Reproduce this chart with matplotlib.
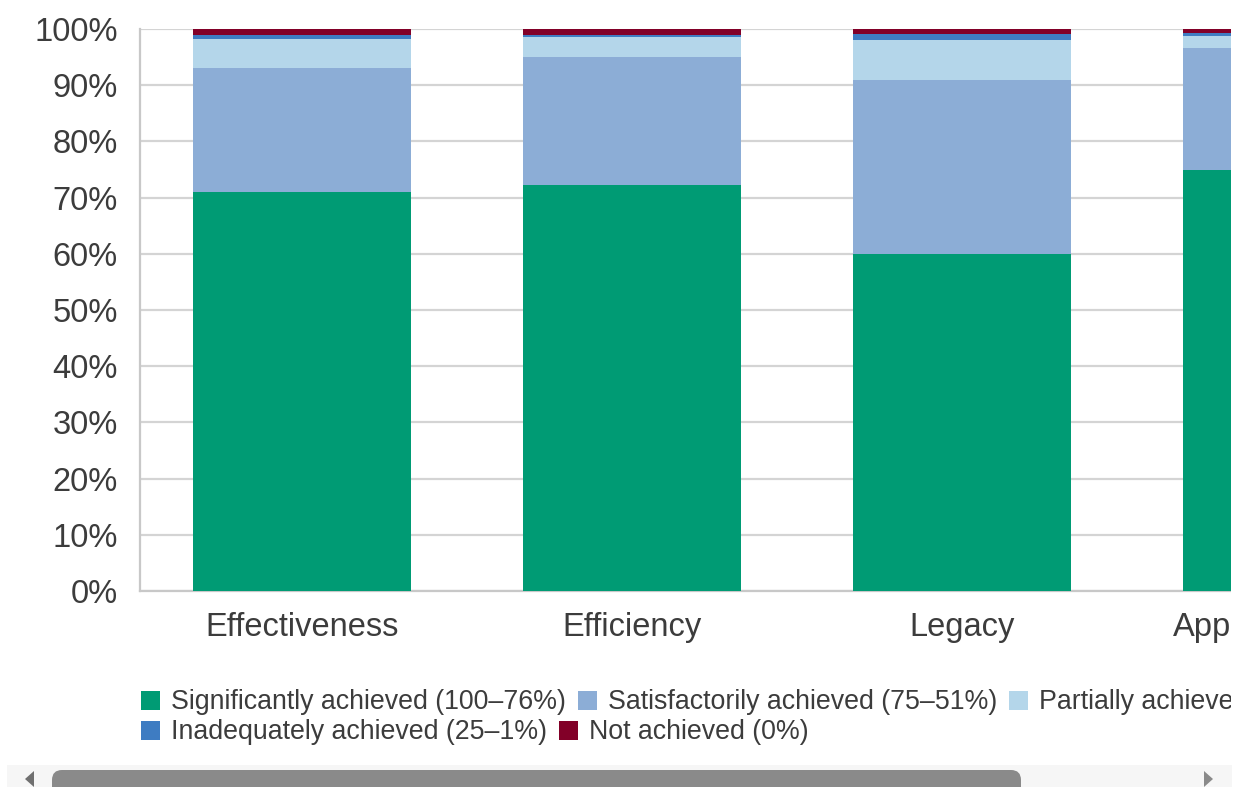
import matplotlib
matplotlib.use("Agg")
import matplotlib.pyplot as plt
import numpy as np
from matplotlib.patches import FancyBboxPatch, Polygon, Rectangle
from matplotlib.ticker import FuncFormatter, MultipleLocator

plt.rcParams["font.family"] = ["Liberation Sans", "DejaVu Sans"]

categories = ["Effectiveness", "Efficiency", "Legacy", "Appropriateness"]
significant = [71.0, 72.3, 60.0, 74.9]
satisfactory = [22.1, 22.7, 30.9, 21.7]
partial = [5.2, 3.5, 7.1, 2.2]
inadequate = [0.6, 0.4, 1.1, 0.4]
not_achieved = [1.1, 1.1, 0.9, 0.8]

series = [
    ("Significantly achieved (100\u201376%)", significant, "#009b74"),
    ("Satisfactorily achieved (75\u201351%)", satisfactory, "#8cadd6"),
    ("Partially achieved (50\u201326%)", partial, "#b4d6ea"),
    ("Inadequately achieved (25\u20131%)", inadequate, "#3e7cc2"),
    ("Not achieved (0%)", not_achieved, "#820028"),
]

W, H, DPI = 1235, 787, 100
fig = plt.figure(figsize=(W / DPI, H / DPI), dpi=DPI)
# axes run past the right edge of the canvas (horizontal scroll view)
ax = fig.add_axes([140 / W, (H - 591) / H, 1320 / W, (591 - 29) / H])

x = np.arange(len(categories))
bottom = np.zeros(len(categories))
for label, vals, color in series:
    ax.bar(x, vals, width=0.66, bottom=bottom, color=color, zorder=3)
    bottom += np.array(vals)

ax.set_xlim(-0.49, 3.51)
ax.set_ylim(0, 100)
ax.yaxis.set_major_locator(MultipleLocator(10))
ax.yaxis.set_major_formatter(FuncFormatter(lambda v, _: f"{v:.0f}%"))
ax.grid(axis="y", color="#d4d4d4", linewidth=1.6, zorder=0)
ax.set_xticks(x)
ax.set_xticklabels(categories)
ax.tick_params(axis="y", length=0, pad=16, labelsize=23.5, labelcolor="#3c3c3c")
ax.tick_params(axis="x", length=0, pad=15, labelsize=23.5, labelcolor="#3c3c3c")
for side in ("top", "right"):
    ax.spines[side].set_visible(False)
for side in ("left", "bottom"):
    ax.spines[side].set_color("#c8c8c8")
    ax.spines[side].set_linewidth(1.6)

# legend laid out as flowing rows
inch = fig.dpi_scale_trans
renderer = fig.canvas.get_renderer()
rows = [[0, 1, 2], [3, 4]]
row_y = [700, 730]
for row, yc in zip(rows, row_y):
    xpos = 141
    for i in row:
        label, _, color = series[i]
        fig.add_artist(Rectangle((xpos / DPI, (H - yc - 9.5) / DPI), 19 / DPI, 19 / DPI,
                                 transform=inch, facecolor=color, edgecolor="none"))
        t = fig.text((xpos + 30) / DPI, (H - yc - 2) / DPI, label, transform=inch,
                     fontsize=19.3, color="#3c3c3c", va="center", ha="left")
        w = t.get_window_extent(renderer).width
        xpos += 30 + w + 12

# viewport edge of the scrolling chart area
fig.add_artist(Rectangle((1231 / DPI, (H - 765) / DPI), 10 / DPI, 765 / DPI,
                         transform=inch, facecolor="white", edgecolor="none", zorder=10))

# horizontal scrollbar strip
fig.add_artist(Rectangle((7 / DPI, 0), (1232 - 7) / DPI, (H - 765) / DPI,
                         transform=inch, facecolor="#f6f6f6", edgecolor="none"))
fig.add_artist(FancyBboxPatch((62 / DPI, -10 / DPI), (1011 - 62) / DPI, (H - 770 + 0) / DPI,
                              boxstyle="round,pad=0.1", transform=inch,
                              facecolor="#8a8a8a", edgecolor="none"))
fig.add_artist(Polygon([(25 / DPI, (H - 779) / DPI), (34 / DPI, (H - 771) / DPI),
                        (34 / DPI, (H - 787) / DPI)], closed=True, transform=inch,
                       facecolor="#707070", edgecolor="none"))
fig.add_artist(Polygon([(1213 / DPI, (H - 779) / DPI), (1204 / DPI, (H - 771) / DPI),
                        (1204 / DPI, (H - 787) / DPI)], closed=True, transform=inch,
                       facecolor="#8a8a8a", edgecolor="none"))

fig.savefig("out.png", dpi=DPI)
